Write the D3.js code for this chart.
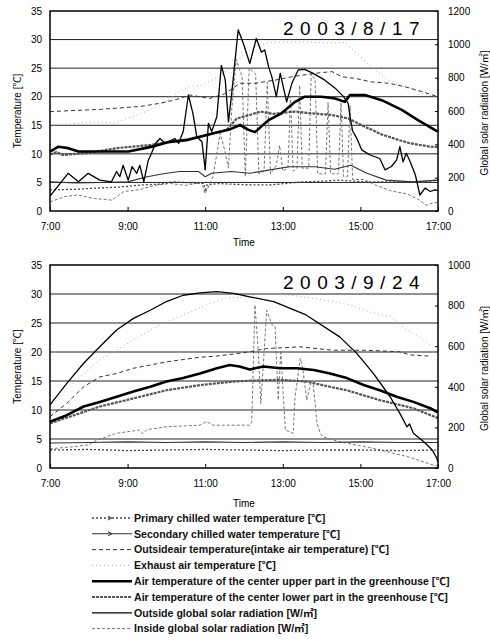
<!DOCTYPE html>
<html><head><meta charset="utf-8">
<script src="https://cdn.jsdelivr.net/npm/d3@7"></script>
<style>
html,body{margin:0;padding:0;background:#fff;}
svg text{font-family:"Liberation Sans",Arial,"Noto Sans CJK JP",sans-serif;}
</style></head>
<body><svg id="c" width="490" height="640"></svg>
<script>
// ---------- tick labels ----------
const timeTicks = ["7:00","9:00","11:00","13:00","15:00","17:00"];
const tempTicks = [0,5,10,15,20,25,30,35];
const radTicks817 = [0,200,400,600,800,1000,1200];
const radTicks924 = [0,200,400,600,800,1000];
const titles = ["2003/8/17","2003/9/24"];

// ---------- 2003/8/17 (temperatures in degC, radiation in W/m2) ----------
const primary817 = [["7:00",3.7],["7:40",3.8],["8:10",4.0],["8:50",4.2],["9:20",4.55],["9:50",4.7],["10:10",5.1],["10:40",4.9],["10:58",4.8],["11:00",3.4],["11:03",4.6],["11:20",4.8],["12:00",4.6],["12:40",4.55],["13:30",5.1],["14:00",5.2],["14:25",5.4],["15:10",5.1],["16:00",5.1],["16:30",5.0],["17:00",5.4]];
const secondary817 = [["7:00",5.1],["7:40",4.9],["8:20",5.0],["9:00",5.1],["9:30",6.0],["10:00",6.6],["10:20",6.9],["10:50",6.9],["11:00",6.0],["11:10",6.6],["11:40",6.9],["12:09",6.6],["12:40",7.2],["13:10",7.75],["13:50",7.75],["14:20",7.3],["14:45",8.0],["15:10",6.6],["15:40",5.4],["16:20",5.1],["17:00",5.4]];
const outsideAir817 = [["7:00",17.4],["7:40",17.6],["8:20",17.8],["8:43",18.0],["9:20",18.3],["9:50",18.85],["10:15",19.5],["10:36",20.3],["11:07",19.7],["11:30",20.5],["11:54",22.35],["12:17",22.35],["12:48",22.9],["13:14",23.5],["13:50",24.1],["14:16",24.4],["14:31",23.5],["14:52",23.2],["15:17",22.6],["15:43",22.35],["16:09",21.75],["16:35",20.9],["17:00",20.0]];
const exhaust817 = [["7:00",15.0],["7:30",15.2],["8:10",15.6],["8:40",15.4],["9:20",17.0],["9:50",18.5],["10:15",20.5],["10:35",21.8],["10:55",22.0],["11:20",23.5],["11:45",25.5],["12:00",27.5],["12:20",29.0],["12:45",29.5],["13:30",29.6],["14:10",29.4],["14:36",29.5],["14:57",27.3],["15:17",25.2],["15:42",22.9],["16:09",21.7],["16:44",20.3],["17:00",20.0]];
const upper817 = [["7:00",10.4],["7:13",11.25],["7:28",11.0],["7:44",10.4],["8:20",10.4],["9:01",10.4],["9:27",11.0],["9:43",11.4],["10:05",12.1],["10:31",12.4],["10:52",13.0],["11:13",13.6],["11:36",14.2],["11:54",15.05],["12:07",14.2],["12:17",13.8],["12:38",15.9],["12:58",17.1],["13:19",19.1],["13:34",20.0],["14:00",20.0],["14:21",19.7],["14:36",19.1],["14:44",20.3],["15:07",20.3],["15:33",19.4],["16:04",17.7],["16:29",15.9],["16:55",14.2],["17:00",13.9]];
const lower817 = [["7:00",9.9],["7:10",10.3],["7:20",9.8],["8:00",10.2],["8:43",11.0],["9:35",11.55],["10:26",12.4],["11:02",13.3],["11:33",14.2],["11:49",16.2],["12:09",16.8],["12:25",17.4],["12:45",17.0],["13:19",17.4],["13:44",17.1],["14:16",16.8],["14:41",16.2],["15:07",14.75],["15:33",13.4],["16:00",12.4],["16:17",11.85],["16:48",11.25],["17:00",11.2]];
const outsideRad817 = [["7:00",89],["7:28",226],["7:44",175],["7:59",226],["8:17",185],["8:35",175],["8:43",237],["8:48",206],["8:53",274],["9:01",185],["9:07",267],["9:14",226],["9:19",274],["9:25",175],["9:32",305],["9:37",346],["9:43",405],["9:50",435],["9:58",406],["10:13",435],["10:19",406],["10:26",477],["10:34",696],["10:41",586],["10:47",446],["10:55",415],["11:00",247],["11:05",526],["11:10",477],["11:18",566],["11:25",874],["11:31",785],["11:36",535],["11:41",706],["11:51",1087],["11:59",1005],["12:09",885],["12:19",1035],["12:27",953],["12:32",967],["12:38",866],["12:43",806],["12:50",686],["12:56",826],["13:06",655],["13:14",766],["13:24",847],["13:34",850],["13:47",826],["14:05",785],["14:21",737],["14:34",686],["14:41",646],["14:44",566],["14:48",480],["14:54",439],["15:02",367],["15:15",336],["15:30",315],["15:38",247],["15:48",267],["15:56",305],["16:01",386],["16:06",295],["16:11",346],["16:17",295],["16:25",216],["16:32",96],["16:40",137],["16:48",117],["16:55",127],["17:00",123]];
const insideRad817 = [["7:00",55],["7:23",86],["7:42",96],["8:09",75],["8:36",65],["8:54",117],["9:18",127],["9:42",154],["10:06",165],["10:30",154],["10:54",171],["11:00",103],["11:12",206],["11:18",343],["11:23",466],["11:30",367],["11:36",257],["11:41",607],["11:48",909],["11:57",806],["12:02",206],["12:08",857],["12:18",823],["12:23",223],["12:31",240],["12:36",771],["12:41",223],["12:50",274],["12:55",394],["13:00",240],["13:08",257],["13:12",686],["13:16",240],["13:22",257],["13:26",754],["13:30",257],["13:40",257],["13:44",823],["13:50",789],["13:54",223],["14:06",223],["14:10",651],["14:14",223],["14:26",223],["14:30",651],["14:34",206],["14:40",206],["14:44",634],["14:48",189],["15:06",189],["15:24",154],["15:48",120],["16:12",103],["16:30",69],["16:42",34],["16:54",51],["17:00",48]];

// ---------- 2003/9/24 ----------
const primary924 = [["7:00",3.1],["8:00",3.2],["9:00",3.0],["10:00",3.1],["11:00",3.2],["12:00",3.1],["13:00",3.0],["14:00",3.1],["15:00",3.1],["16:00",3.0],["17:00",3.1]];
const secondary924 = [["7:00",4.3],["8:00",4.4],["9:00",4.5],["10:00",4.4],["11:00",4.5],["12:00",4.4],["13:00",4.5],["14:00",4.4],["15:00",4.5],["16:00",4.4],["17:00",4.4]];
const outsideAir924 = [["7:00",8.85],["7:26",11.15],["7:52",14.0],["8:17",15.7],["8:43",16.3],["9:09",17.2],["9:35",17.75],["10:00",18.3],["10:26",18.7],["10:52",19.1],["11:18",19.3],["11:44",19.65],["12:09",20.05],["12:35",20.6],["13:26",20.9],["14:17",20.3],["15:09",20.3],["16:00",20.05],["16:17",19.5],["16:45",19.3]];
const exhaust924 = [["7:00",10.6],["7:41",15.2],["8:17",18.6],["9:09",22.1],["9:50",24.7],["10:26",26.4],["11:02",28.1],["11:33",29.3],["12:04",29.5],["12:25",30.1],["13:11",29.8],["14:02",29.0],["14:44",28.1],["15:20",26.7],["15:46",26.1],["16:12",23.8],["16:32",22.6],["16:50",21.0]];
const upper924 = [["7:00",8.0],["7:26",9.1],["7:52",10.6],["8:17",11.4],["8:43",12.3],["9:09",13.2],["9:35",14.0],["10:00",14.9],["10:26",15.5],["10:52",16.3],["11:18",17.2],["11:38",17.75],["11:53",17.5],["12:09",17.0],["12:30",17.5],["12:56",17.2],["13:22",17.2],["13:48",16.9],["14:13",16.3],["14:39",15.5],["15:05",14.3],["15:30",13.4],["15:56",12.3],["16:22",11.4],["16:48",10.3],["17:00",9.6]];
const lower924 = [["7:00",7.7],["8:17",10.6],["9:09",12.0],["10:00",13.4],["10:52",14.3],["11:44",14.9],["12:09",15.05],["12:56",15.2],["13:37",14.9],["14:13",14.0],["14:39",13.4],["15:30",11.7],["16:22",10.3],["17:00",8.6]];
const outsideRad924 = [["7:00",311],["7:26",417],["7:52",516],["8:17",597],["8:43",680],["9:09",737],["9:35",777],["10:00",820],["10:26",851],["10:52",863],["11:18",869],["11:44",860],["12:09",843],["12:46",820],["13:36",754],["14:28",646],["14:54",566],["15:20",466],["15:46",351],["16:01",269],["16:12",203],["16:16",217],["16:22",171],["16:38",129],["16:51",89],["16:58",49],["17:00",29]];
const insideRad924 = [["7:00",94],["7:30",103],["8:00",114],["8:12",137],["8:43",171],["9:18",187],["9:24",169],["9:30",189],["10:00",203],["10:52",211],["11:02",229],["11:12",211],["12:09",211],["12:12",229],["12:17",803],["12:22",580],["12:26",317],["12:30",514],["12:35",777],["12:43",706],["12:48",697],["12:53",334],["12:57",580],["13:01",343],["13:04",187],["13:16",171],["13:19",351],["13:27",540],["13:31",486],["13:37",334],["13:43",417],["13:47",411],["13:53",220],["13:58",171],["14:02",154],["14:28",129],["15:20",97],["16:12",57],["16:53",14],["17:00",9]];

const legendLabels = [
  "Primary chilled water temperature [\u2103]",
  "Secondary chilled water temperature [\u2103]",
  "Outsideair temperature(intake air temperature) [\u2103]",
  "Exhaust air temperature [\u2103]",
  "Air temperature of the center upper part in the greenhouse [\u2103]",
  "Air temperature of the center lower part in the greenhouse [\u2103]",
  "Outside global solar radiation [W/\u33A1]",
  "Inside global solar radiation [W/\u33A1]"
];

// ---------- styles ----------
const styles = [
  {stroke:"#444", width:1.3, dash:"2,2", marker:true},
  {stroke:"#333", width:1.1, dash:null, marker:true},
  {stroke:"#333", width:1, dash:"4,3"},
  {stroke:"#aaa", width:1, dash:"1,3"},
  {stroke:"#000", width:2.6, dash:null},
  {stroke:"#555", width:2.2, dash:"3,1"},
  {stroke:"#000", width:1.3, dash:null},
  {stroke:"#777", width:1, dash:"3,2"}
];

const parseT = t => { const p = t.split(":"); return +p[0] + (+p[1])/60; };
const svg = d3.select("#c");
const X0 = 50, X1 = 438;
const x = d3.scaleLinear().domain([7,17]).range([X0,X1]);

function drawChart(cfg) {
  const g = svg.append("g");
  const yT = d3.scaleLinear().domain([0,35]).range([cfg.bot,cfg.top]);
  const yR = d3.scaleLinear().domain([0,cfg.radMax]).range([cfg.bot,cfg.top]);
  // gridlines
  g.selectAll("line.grid").data(tempTicks.filter(v=>v>0&&v<35)).join("line")
    .attr("x1",X0).attr("x2",X1).attr("y1",d=>yT(d)).attr("y2",d=>yT(d))
    .attr("stroke","#222").attr("stroke-width",1);
  const series = [cfg.primary,cfg.secondary,cfg.outsideAir,cfg.exhaust,cfg.upper,cfg.lower,cfg.outRad,cfg.inRad];
  const drawOrder = [3,7,0,1,2,5,6,4];
  drawOrder.forEach(i => {
    const s = styles[i];
    const yy = i >= 6 ? yR : yT;
    const line = d3.line().x(d=>x(parseT(d[0]))).y(d=>yy(d[1]));
    g.append("path").attr("d", line(series[i])).attr("fill","none")
      .attr("stroke", s.stroke).attr("stroke-width", s.width)
      .attr("stroke-dasharray", s.dash).attr("stroke-linejoin","round");
  });
  // frame
  g.append("rect").attr("x",X0).attr("y",cfg.top).attr("width",X1-X0).attr("height",cfg.bot-cfg.top)
    .attr("fill","none").attr("stroke","#000").attr("stroke-width",1.5);
  // axes
  const ax = g.append("g").attr("transform",`translate(${X0},0)`)
    .call(d3.axisLeft(yT).tickValues(tempTicks).tickSize(0).tickPadding(8));
  const ar = g.append("g").attr("transform",`translate(${X1},0)`)
    .call(d3.axisRight(yR).tickValues(cfg.radTicks).tickFormat(d3.format("d")).tickSizeInner(-3).tickSizeOuter(0).tickPadding(10));
  const ab = g.append("g").attr("transform",`translate(0,${cfg.bot})`)
    .call(d3.axisBottom(x).tickValues(timeTicks.map(parseT)).tickFormat((d,i)=>timeTicks[i]).tickSizeInner(-4).tickSizeOuter(0).tickPadding(12));
  [ax,ar,ab].forEach(a => {
    a.select(".domain").remove();
    a.selectAll("text").attr("font-size",10).attr("fill","#000").attr("font-family",'"Liberation Sans",Arial,sans-serif');
    a.selectAll("line").attr("stroke","#000");
  });
  // title
  g.append("text").attr("x",283).attr("y",cfg.top+24).text(cfg.title)
    .attr("font-family",'"Liberation Serif","DejaVu Serif",serif').attr("font-size",19)
    .attr("letter-spacing",6.5).attr("fill","#000");
  // axis titles
  g.append("text").attr("transform",`translate(21,${(cfg.top+cfg.bot)/2}) rotate(-90)`)
    .attr("text-anchor","middle").attr("font-size",10).text("Temperature [\u2103]");
  g.append("text").attr("transform",`translate(488,${(cfg.top+cfg.bot)/2+2}) rotate(-90)`)
    .attr("text-anchor","middle").attr("font-size",10).text("Global solar radiation [W/\u33A1]");
  g.append("text").attr("x",244).attr("y",cfg.timeY).attr("text-anchor","middle").attr("font-size",10).text("Time");
}

drawChart({top:11, bot:211, radMax:1200, radTicks:radTicks817, title:titles[0], timeY:246,
  primary:primary817, secondary:secondary817, outsideAir:outsideAir817, exhaust:exhaust817,
  upper:upper817, lower:lower817, outRad:outsideRad817, inRad:insideRad817});
drawChart({top:265, bot:468, radMax:1000, radTicks:radTicks924, title:titles[1], timeY:507,
  primary:primary924, secondary:secondary924, outsideAir:outsideAir924, exhaust:exhaust924,
  upper:upper924, lower:lower924, outRad:outsideRad924, inRad:insideRad924});

// legend
const lg = svg.append("g");
legendLabels.forEach((lab,i) => {
  const yy = 518 + i*15.8;
  const s = styles[i];
  lg.append("line").attr("x1",92).attr("x2",132).attr("y1",yy).attr("y2",yy)
    .attr("stroke",s.stroke).attr("stroke-width",s.width).attr("stroke-dasharray",s.dash);
  if (s.marker) {
    lg.append("path").attr("d",`M${108},${yy-2}L${112},${yy}L${108},${yy+2}`).attr("fill","none").attr("stroke",s.stroke).attr("stroke-width",1);
  }
  lg.append("text").attr("x",134).attr("y",yy+3.8).attr("font-size",10.6).attr("font-weight","bold").attr("fill","#111").text(lab);
});
</script></body></html>
